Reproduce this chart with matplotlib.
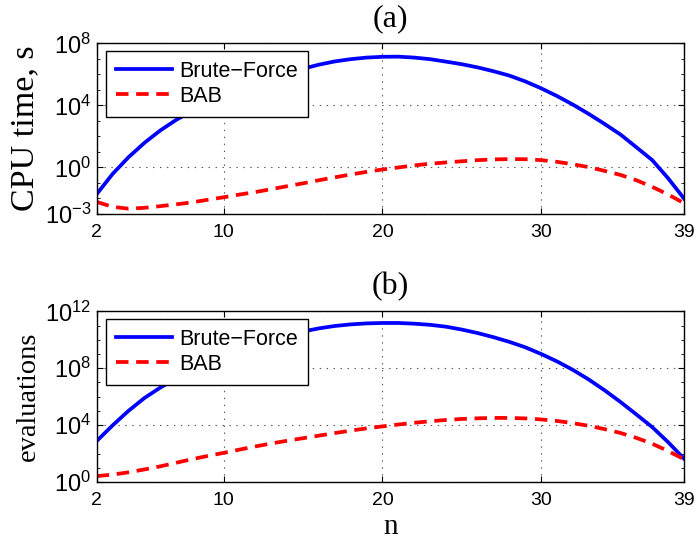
import matplotlib
matplotlib.use("Agg")
import matplotlib.pyplot as plt
import numpy as np
from matplotlib.ticker import FixedLocator, FixedFormatter, NullFormatter

plt.rcParams['mathtext.fontset'] = 'custom'
plt.rcParams['mathtext.rm'] = 'Liberation Sans'
plt.rcParams['mathtext.it'] = 'Liberation Sans'
plt.rcParams['lines.scale_dashes'] = False

n = list(range(2, 40))

# (a) CPU time, s
time_brute = [1.9e-2, 3.8e-1, 4.5e0, 3.8e1, 2.4e2, 1.15e3, 4.4e3, 1.41e4, 4.0e4, 1.05e5,
              2.5e5, 5.6e5, 1.17e6, 2.3e6, 4.2e6, 6.8e6, 9.5e6, 1.2e7, 1.35e7, 1.38e7,
              1.2e7, 9.5e6, 6.6e6, 4.5e6, 2.8e6, 1.58e6, 8.3e5, 3.5e5, 1.26e5, 4.0e4,
              1.12e4, 2.8e3, 6.3e2, 1.32e2, 2.0e1, 2.95e0, 2.0e-1, 1.0e-2]
time_bab = [6.0e-3, 2.9e-3, 2.2e-3, 2.5e-3, 3.2e-3, 4.2e-3, 5.6e-3, 8.3e-3, 1.2e-2, 1.8e-2,
            2.6e-2, 4.0e-2, 6.2e-2, 9.5e-2, 1.5e-1, 2.3e-1, 3.5e-1, 5.2e-1, 7.4e-1, 1.0e0,
            1.35e0, 1.74e0, 2.1e0, 2.5e0, 2.95e0, 3.3e0, 3.45e0, 3.4e0, 2.95e0, 2.3e0,
            1.6e0, 1.05e0, 6.0e-1, 3.3e-1, 1.5e-1, 5.6e-2, 1.8e-2, 5.0e-3]

# (b) evaluations
eval_brute = [7.6e2, 9.5e3, 1.0e5, 7.9e5, 4.3e6, 1.86e7, 7.1e7, 2.4e8, 7.2e8, 1.95e9,
              4.8e9, 1.05e10, 2.1e10, 3.8e10, 6.3e10, 9.3e10, 1.2e11, 1.41e11, 1.51e11, 1.51e11,
              1.35e11, 1.12e11, 8.3e10, 5.2e10, 2.95e10, 1.51e10, 7.1e9, 2.95e9, 1.0e9, 3.0e8,
              7.6e7, 1.6e7, 2.8e6, 4.2e5, 5.6e4, 7.2e3, 6.3e2, 4.4e1]
eval_bab = [2.6e0, 3.3e0, 4.8e0, 7.6e0, 1.26e1, 2.24e1, 4.0e1, 6.8e1, 1.12e2, 1.9e2,
            3.16e2, 5.13e2, 7.94e2, 1.2e3, 1.82e3, 2.75e3, 4.1e3, 5.9e3, 8.1e3, 1.1e4,
            1.45e4, 1.86e4, 2.3e4, 2.7e4, 3.0e4, 3.2e4, 3.2e4, 2.95e4, 2.5e4, 1.95e4,
            1.38e4, 8.9e3, 5.2e3, 2.8e3, 1.26e3, 4.9e2, 1.5e2, 4.0e1]

x_ticks = [2, 10, 20, 30, 39]
top_yticks = [1e-3, 1e0, 1e4, 1e8]
top_ylabels = [r'$10^{-3}$', r'$10^{0}$', r'$10^{4}$', r'$10^{8}$']
bot_yticks = [1e0, 1e4, 1e8, 1e12]
bot_ylabels = [r'$10^{0}$', r'$10^{4}$', r'$10^{8}$', r'$10^{12}$']
labels = ['Brute\u2212Force', 'BAB']

W, H = 697, 543
fig = plt.figure(figsize=(W / 100, H / 100), dpi=100)

def px_axes(x0, y0, x1, y1):
    return fig.add_axes([x0 / W, 1 - y1 / H, (x1 - x0) / W, (y1 - y0) / H])

ax1 = px_axes(96.7, 43.3, 684, 214)
ax2 = px_axes(96.7, 311.3, 684, 482)

serif = ['Liberation Serif', 'DejaVu Serif']
sans = ['Liberation Sans', 'DejaVu Sans']

def style(ax, bf, bab, yt, yl, ylim, title, tpad, ylabel, ysize):
    l1, = ax.plot(n, bf, color=(0, 0, 1), lw=2.7, solid_joinstyle='round')
    l2, = ax.plot(n, bab, color=(1, 0, 0), lw=2.7, dashes=(9, 5.5))
    ax.set_yscale('log')
    ax.set_xlim(2, 39)
    ax.set_ylim(*ylim)
    ax.xaxis.set_major_locator(FixedLocator(x_ticks))
    ax.set_xticklabels([str(v) for v in x_ticks], fontfamily=sans, fontsize=14)
    ax.yaxis.set_major_locator(FixedLocator(yt))
    ax.yaxis.set_major_formatter(FixedFormatter(yl))
    lo, hi = int(round(np.log10(ylim[0]))), int(round(np.log10(ylim[1])))
    ax.yaxis.set_minor_locator(FixedLocator([10.0 ** k for k in range(lo, hi + 1)]))
    ax.yaxis.set_minor_formatter(NullFormatter())
    for lab in ax.get_yticklabels():
        lab.set_fontsize(17)
    ax.tick_params(which='major', direction='in', length=4, width=0.8,
                   top=True, right=True, pad=4)
    ax.tick_params(axis='x', which='major', pad=7)
    ax.tick_params(which='minor', direction='in', length=2, width=0.6,
                   left=True, right=True)
    ax.grid(True, which='major', linestyle=(0, (1, 4)), color='#555555', lw=0.8)
    for sp in ax.spines.values():
        sp.set_linewidth(1.0)
    ax.set_title(title, fontfamily=serif, fontsize=23, pad=tpad)
    ax.set_ylabel(ylabel, fontfamily=serif, fontsize=ysize, labelpad=3)
    leg = ax.legend([l1, l2], labels, loc='upper left',
                    bbox_to_anchor=(0.016, 0.955), borderaxespad=0,
                    prop={'family': sans, 'size': 15.5}, handlelength=2.6,
                    frameon=True, fancybox=False, framealpha=1,
                    edgecolor='black', borderpad=0.45, labelspacing=0.2,
                    handletextpad=0.35)
    leg.get_frame().set_linewidth(1.0)
    return ax

style(ax1, time_brute, time_bab, top_yticks, top_ylabels, (1e-3, 1e8), '(a)', 12.5,
      'CPU time, s', 24.5)
style(ax2, eval_brute, eval_bab, bot_yticks, bot_ylabels, (1e0, 1e12), '(b)', 12,
      'evaluations', 20.5)
ax2.set_xlabel('n', fontfamily=serif, fontsize=21, labelpad=4)

fig.savefig('out.png', dpi=100)
